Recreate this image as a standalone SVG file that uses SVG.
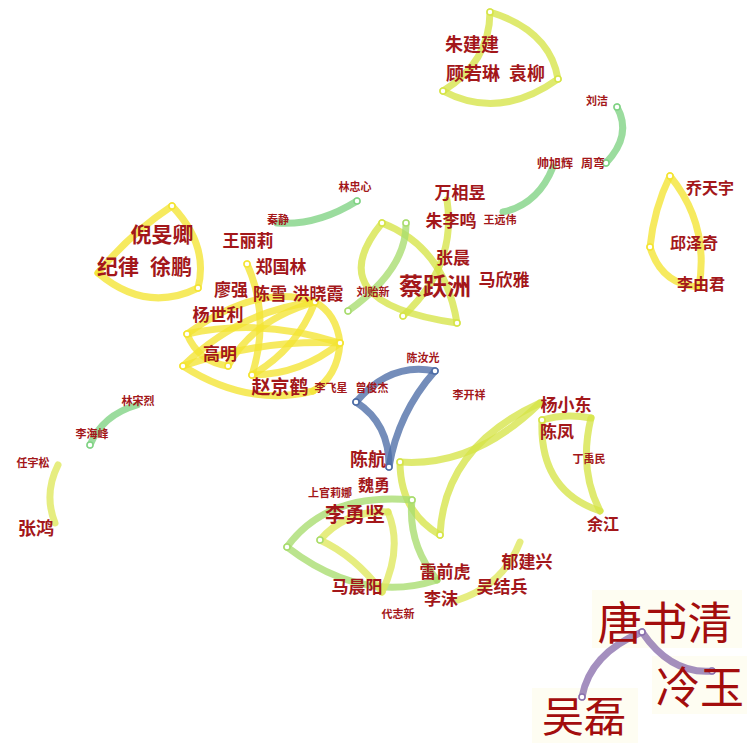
<svg xmlns="http://www.w3.org/2000/svg" width="747" height="743" viewBox="0 0 747 743">
<style>
.e{fill:none;stroke-width:7;stroke-linecap:round;stroke-opacity:0.78}
.yl{stroke:#f4e432}
.yg{stroke:#d6e448}
.ly{stroke:#dfe85c}
.lg{stroke:#a8dc6e}
.gr{stroke:#7fd283}
.bl{stroke:#4d6da6}
.pu{stroke:#8a70ad}
.n{fill:#ffffff;stroke-width:1.5}
text{font-family:"Noto Sans CJK SC","Noto Sans CJK TC",sans-serif;fill:#a3171a;font-weight:700;text-anchor:middle;dominant-baseline:central}
.big{font-weight:400;fill:#a30d0d}
</style>
<rect width="747" height="743" fill="#ffffff"/>
<g id="label-bg" fill="#fefdf2">
<rect x="592" y="590" width="150" height="58"/>
<rect x="652" y="656" width="95" height="58"/>
<rect x="532" y="688" width="106" height="55"/>
</g>
<g id="connectors">
<path class="e yg" d="M490 12 Q489.5 62.5 443 91"/>
<path class="e yg" d="M490 12 Q550 30.5 558 79"/>
<path class="e yg" d="M443 91 Q499.5 121 558 79"/>
<path class="e gr" d="M617 107 Q632.5 135 606 163"/>
<path class="e gr" d="M553 167 Q538 204.5 503 212"/>
<path class="e gr" d="M357 201 Q317 226 277 223"/>
<path class="e yl" d="M670 176 Q654 208.5 650 247"/>
<path class="e yl" d="M670 176 Q709.5 224.5 699 287"/>
<path class="e yl" d="M650 247 Q661.5 285 699 287"/>
<path class="e yl" d="M172 206 Q129 234.5 98 273"/>
<path class="e yl" d="M172 206 Q209 245 198 288"/>
<path class="e yl" d="M98 273 Q146 313.5 198 288"/>
<path class="e yl" d="M187 334 Q259 282 315 302"/>
<path class="e yl" d="M187 334 Q260.5 317.5 340 343"/>
<path class="e yl" d="M183 366 Q258.5 339.5 340 343"/>
<path class="e yl" d="M183 366 Q248 407.5 313 391"/>
<path class="e yl" d="M228 366 Q252.5 320 315 302"/>
<path class="e yl" d="M252 375 Q296.5 349.5 315 302"/>
<path class="e yl" d="M252 375 Q300 375 340 343"/>
<path class="e yl" d="M247 264 Q270.5 316.5 252 375"/>
<path class="e yl" d="M315 302 Q336.5 313.5 340 343"/>
<path class="e yl" d="M187 334 Q198.5 362 228 366"/>
<path class="e yl" d="M340 343 Q337.5 377 313 391"/>
<path class="e yl" d="M183 366 Q241 310 315 302"/>
<path class="e yg" d="M382 223 Q444.5 247 457 323"/>
<path class="e yg" d="M382 223 Q316.5 303 457 323"/>
<path class="e lg" d="M406 223 Q407 269 348 311"/>
<path class="e yg" d="M447 200 Q457 266 403 316"/>
<path class="e bl" d="M356 402 Q390.5 361.5 435 371"/>
<path class="e bl" d="M435 371 Q398 413 389 467"/>
<path class="e bl" d="M356 402 Q389.5 423.5 389 467"/>
<path class="e yg" d="M400 462 Q474 467.5 540 403"/>
<path class="e yg" d="M440 535 Q444 447 540 403"/>
<path class="e yg" d="M400 462 Q400 511.5 440 535"/>
<path class="e yg" d="M542 420 Q539 490.5 600 511"/>
<path class="e yg" d="M591 418 Q578.5 469.5 600 511"/>
<path class="e yg" d="M542 420 Q565.5 413 591 418"/>
<path class="e lg" d="M412 500 Q326.5 492.5 287 547"/>
<path class="e lg" d="M287 547 Q362 604.5 437 580"/>
<path class="e lg" d="M412 500 Q407.5 544 437 580"/>
<path class="e ly" d="M320 540 Q346 510 388 512"/>
<path class="e ly" d="M388 512 Q403 548 382 592"/>
<path class="e ly" d="M320 540 Q355 556 382 592"/>
<path class="e ly" d="M458 600 Q503 585 520 542"/>
<path class="e gr" d="M90 445 Q102.5 415 137 405"/>
<path class="e ly" d="M58 465 Q43.5 494 55 523"/>
<path class="e pu" d="M642 632 Q590 653.5 582 697"/>
<path class="e pu" d="M642 632 Q671 674.5 712 671"/>
</g>
<g id="nodes-dots">
<g stroke="#d6e448"><circle class="n" cx="490" cy="12" r="3"/><circle class="n" cx="443" cy="91" r="3"/><circle class="n" cx="558" cy="79" r="3"/></g>
<g stroke="#7fd283"><circle class="n" cx="617" cy="107" r="3"/><circle class="n" cx="606" cy="163" r="3"/><circle class="n" cx="357" cy="201" r="3"/><circle class="n" cx="90" cy="445" r="3"/></g>
<g stroke="#f4e432"><circle class="n" cx="670" cy="176" r="3"/><circle class="n" cx="650" cy="247" r="3"/><circle class="n" cx="172" cy="206" r="3"/><circle class="n" cx="198" cy="288" r="3"/><circle class="n" cx="247" cy="264" r="3"/><circle class="n" cx="187" cy="334" r="3"/><circle class="n" cx="183" cy="366" r="3"/><circle class="n" cx="228" cy="366" r="3"/><circle class="n" cx="252" cy="375" r="3"/><circle class="n" cx="315" cy="302" r="3"/><circle class="n" cx="340" cy="343" r="3"/></g>
<g stroke="#d6e448"><circle class="n" cx="382" cy="223" r="3"/><circle class="n" cx="457" cy="323" r="3"/><circle class="n" cx="403" cy="316" r="3"/><circle class="n" cx="400" cy="462" r="3"/><circle class="n" cx="440" cy="535" r="3"/><circle class="n" cx="542" cy="420" r="3"/></g>
<g stroke="#a8dc6e"><circle class="n" cx="406" cy="223" r="3"/><circle class="n" cx="348" cy="311" r="3"/><circle class="n" cx="412" cy="500" r="3"/><circle class="n" cx="287" cy="547" r="3"/><circle class="n" cx="320" cy="540" r="3"/></g>
<g stroke="#4d6da6"><circle class="n" cx="356" cy="402" r="3"/><circle class="n" cx="435" cy="371" r="3"/><circle class="n" cx="389" cy="467" r="3"/></g>
<g stroke="#8a70ad"><circle class="n" cx="642" cy="632" r="3"/><circle class="n" cx="582" cy="697" r="3"/><circle class="n" cx="712" cy="671" r="3"/></g>
</g>
<g id="node-zhujianjian"><text x="472" y="43" font-size="18">朱建建</text></g>
<g id="node-guruolin"><text x="473" y="72" font-size="18">顾若琳</text></g>
<g id="node-yuanliu"><text x="527" y="72" font-size="18">袁柳</text></g>
<g id="node-liujie"><text x="597" y="100" font-size="11">刘洁</text></g>
<g id="node-shuaixuhui"><text x="555" y="162" font-size="12">帅旭辉</text></g>
<g id="node-zhouwan"><text x="593" y="162" font-size="12">周弯</text></g>
<g id="node-qiaotianyu"><text x="710" y="187" font-size="16">乔天宇</text></g>
<g id="node-qiuzeqi"><text x="694" y="242" font-size="16">邱泽奇</text></g>
<g id="node-liyoujun"><text x="701" y="283" font-size="16">李由君</text></g>
<g id="node-linzhongxin"><text x="355" y="186" font-size="11">林忠心</text></g>
<g id="node-qinjing"><text x="278" y="219" font-size="11">秦静</text></g>
<g id="node-wanxiangyu"><text x="460" y="191" font-size="17">万相昱</text></g>
<g id="node-zhuliming"><text x="451" y="219" font-size="17">朱李鸣</text></g>
<g id="node-wangyuanwei"><text x="500" y="219" font-size="11">王远伟</text></g>
<g id="node-zhangchen"><text x="453" y="256" font-size="17">张晨</text></g>
<g id="node-caiyuezhou"><text x="435" y="284" font-size="24">蔡跃洲</text></g>
<g id="node-maxinya"><text x="504" y="278" font-size="17">马欣雅</text></g>
<g id="node-liuyixin"><text x="373" y="291" font-size="11">刘贻新</text></g>
<g id="node-niminqing"><text x="162" y="233" font-size="21">倪旻卿</text></g>
<g id="node-jilv"><text x="118" y="265" font-size="21">纪律</text></g>
<g id="node-xupeng"><text x="171" y="265" font-size="21">徐鹏</text></g>
<g id="node-wanglili"><text x="248" y="239" font-size="17">王丽莉</text></g>
<g id="node-zhengguolin"><text x="281" y="265" font-size="17">郑国林</text></g>
<g id="node-liaoqiang"><text x="231" y="288" font-size="17">廖强</text></g>
<g id="node-chenxue"><text x="270" y="292" font-size="17">陈雪</text></g>
<g id="node-hongxiaoxia"><text x="318" y="292" font-size="17">洪晓霞</text></g>
<g id="node-yangshili"><text x="218" y="313" font-size="17">杨世利</text></g>
<g id="node-gaoming"><text x="220" y="352" font-size="17">高明</text></g>
<g id="node-zhaojinghe"><text x="280" y="385" font-size="19">赵京鹤</text></g>
<g id="node-lifeixing"><text x="331" y="387" font-size="11">李飞星</text></g>
<g id="node-zengjunjie"><text x="372" y="387" font-size="11">曾俊杰</text></g>
<g id="node-chenruguang"><text x="423" y="357" font-size="11">陈汝光</text></g>
<g id="node-likaixiang"><text x="469" y="394" font-size="11">李开祥</text></g>
<g id="node-linsonglie"><text x="138" y="400" font-size="11">林宋烈</text></g>
<g id="node-lihaifeng"><text x="92" y="433" font-size="11">李海峰</text></g>
<g id="node-renyusong"><text x="33" y="462" font-size="11">任宇松</text></g>
<g id="node-zhanghong"><text x="36" y="527" font-size="18">张鸿</text></g>
<g id="node-yangxiaodong"><text x="566" y="403" font-size="17">杨小东</text></g>
<g id="node-chenfeng"><text x="557" y="430" font-size="17">陈凤</text></g>
<g id="node-dingyumin"><text x="589" y="458" font-size="11">丁禹民</text></g>
<g id="node-yujiang"><text x="603" y="523" font-size="16">余江</text></g>
<g id="node-chenhang"><text x="368" y="458" font-size="18">陈航</text></g>
<g id="node-weiyong"><text x="374" y="484" font-size="16">魏勇</text></g>
<g id="node-shangguanlina"><text x="330" y="492" font-size="11">上官莉娜</text></g>
<g id="node-liyongjian"><text x="355" y="513" font-size="20">李勇坚</text></g>
<g id="node-machenyang"><text x="357" y="585" font-size="17">马晨阳</text></g>
<g id="node-leiqianhu"><text x="445" y="570" font-size="17">雷前虎</text></g>
<g id="node-limo"><text x="441" y="597" font-size="17">李沫</text></g>
<g id="node-wujiebing"><text x="502" y="585" font-size="17">吴结兵</text></g>
<g id="node-yujianxing"><text x="527" y="560" font-size="17">郁建兴</text></g>
<g id="node-daizhixin"><text x="398" y="613" font-size="11">代志新</text></g>
<g id="node-tangshuqing"><text class="big" x="665" y="620" font-size="45">唐书清</text></g>
<g id="node-lengyu"><text class="big" x="700" y="685" font-size="44">冷玉</text></g>
<g id="node-wulei"><text class="big" x="584" y="713" font-size="42">吴磊</text></g>
</svg>
